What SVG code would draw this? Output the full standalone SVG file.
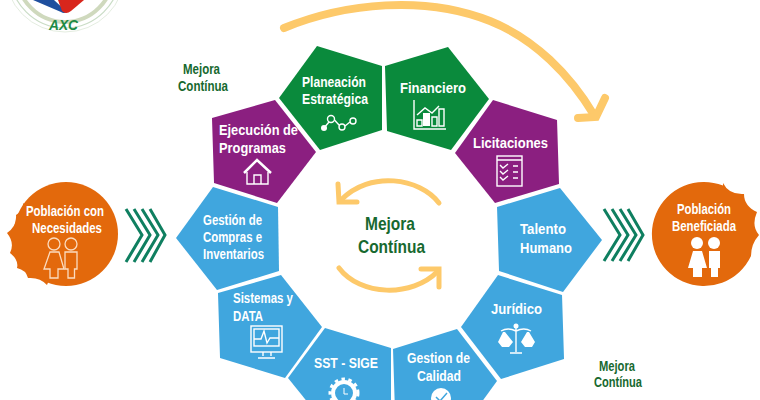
<svg xmlns="http://www.w3.org/2000/svg" width="760" height="400" viewBox="0 0 760 400">
<style>
text{font-family:"Liberation Sans",Arial,sans-serif;font-weight:700}
.w{fill:#fff;font-size:15px}
.g{fill:#17692f;font-size:15px}
.c{fill:#17692f;font-size:19px}
.green{fill:#0a8a3c}.purple{fill:#8b1f80}.blue{fill:#40a6de}.orange{fill:#e3690c}
.ic{fill:none;stroke:#fff;stroke-width:1.4}
.chev{fill:none;stroke:#0f7f60;stroke-width:3}
.arr{fill:none;stroke:#fdc96a;stroke-linecap:round}
</style>
<rect width="760" height="400" fill="#fff"/>
<g id="logo">
<circle cx="65" cy="-28" r="60" fill="none" stroke="#e4ede0" stroke-width="1"/>
<circle cx="65" cy="-27" r="55" fill="none" stroke="#c9dcc5" stroke-width="1.2"/>
<circle cx="65" cy="-26" r="48" fill="none" stroke="#cfd9bd" stroke-width="4"/>
<path d="M33 0 L61 12 Q64 14 67 12 L54 0Z" fill="#1f4f9e"/>
<path d="M58 0 L62 11 Q66 15 71 11 L84 0Z" fill="#d8261c"/>
<text x="49" y="30" font-size="15" fill="#1d8a45" textLength="29" lengthAdjust="spacingAndGlyphs" style="font-family:'Liberation Sans',sans-serif;font-style:italic">AXC</text>
</g>
<g id="connectors">
<path class="arr" stroke-width="8" d="M284 28 C345 3 425 -5 490 21 C535 39 570 75 594 115"/>
<path class="arr" stroke-width="8" d="M578 118 L596 117 L605 98"/>
<path class="arr" stroke-width="5" d="M439 203 C420 178 370 170 341 200"/>
<path class="arr" stroke-width="5" d="M338 184 L339 202 L357 202"/>
<path class="arr" stroke-width="5" d="M339 268 C360 296 412 298 438 271"/>
<path class="arr" stroke-width="5" d="M421 269 L439 269 L439 287"/>
<g class="chev">
<path d="M126 209 L142 235 L126 262M134 209 L150 235 L134 262M142 209 L158 235 L142 262M150 209 L165 235 L150 262"/>
<path d="M604 209 L620 235 L604 261M612 209 L628 235 L612 261M620 209 L636 235 L620 261M628 209 L643 235 L628 261"/>
</g>
</g>
<g id="planeacion">
<polygon class="green" points="317,46 382,66 382,130 320,150 279,98"/>
<text class="w" x="302" y="87" textLength="64" lengthAdjust="spacingAndGlyphs">Planeación</text>
<text class="w" x="302" y="104" textLength="66" lengthAdjust="spacingAndGlyphs">Estratégica</text>
<path class="ic" d="M324 128 L329 122M334.500 120 L339 125M345 126 L350 122"/>
<circle cx="324" cy="128" r="3" fill="#fff"/>
<circle class="ic" cx="331" cy="119" r="3.500"/><circle class="ic" cx="342" cy="127" r="3"/><circle class="ic" cx="353" cy="121" r="3"/>
</g>
<g id="financiero">
<polygon class="green" points="385,66 448,47 489,99 451,150 387,131"/>
<text class="w" x="400" y="93" textLength="66" lengthAdjust="spacingAndGlyphs">Financiero</text>
<path class="ic" d="M414 100 V129 H446M417 115 L425 108 L432 113 L439 106"/>
<path class="ic" d="M417 120h5v6h-5zM432 117h5v9h-5zM439 109h5v17h-5z"/>
<rect x="423" y="113" width="7" height="13" fill="#fff"/>
</g>
<g id="licitaciones">
<polygon class="purple" points="493,100 557,120 559,184 495,203 455,153"/>
<text class="w" x="473" y="148" textLength="75" lengthAdjust="spacingAndGlyphs">Licitaciones</text>
<rect class="ic" x="497" y="156" width="25" height="30"/>
<path class="ic" d="M497 160H522M500 165l3 3 5-4M500 171l3 3 5-4M500 177l3 3 5-4M513 166h5M513 172h5M513 178h5"/>
</g>
<g id="ejecucion">
<polygon class="purple" points="275,100 316,152 277,203 214,183 212,118"/>
<text class="w" x="219" y="135" textLength="79" lengthAdjust="spacingAndGlyphs">Ejecución de</text>
<text class="w" x="219" y="153" textLength="67" lengthAdjust="spacingAndGlyphs">Programas</text>
<path d="M244 173 L257 160 L271 173" fill="none" stroke="#fff" stroke-width="2.500"/>
<path class="ic" d="M247 172 V184 H268 V172M254 184 V175 H261 V184"/>
</g>
<g id="compras">
<polygon class="blue" points="213,187 278,207 279,271 217,290 176,238"/>
<text class="w" x="203" y="225" textLength="59" lengthAdjust="spacingAndGlyphs">Gestión de</text>
<text class="w" x="203" y="242" textLength="59" lengthAdjust="spacingAndGlyphs">Compras e</text>
<text class="w" x="203" y="259" textLength="61" lengthAdjust="spacingAndGlyphs">Inventarios</text>
</g>
<g id="sistemas">
<polygon class="blue" points="218,293 281,275 322,327 285,378 220,358"/>
<text class="w" x="233" y="303" textLength="60" lengthAdjust="spacingAndGlyphs">Sistemas y</text>
<text class="w" x="233" y="321" textLength="30" lengthAdjust="spacingAndGlyphs">DATA</text>
<rect class="ic" x="251" y="326" width="31" height="26"/>
<rect class="ic" x="254" y="329" width="25" height="17"/>
<path class="ic" d="M254 339H261L264 331L267 343L270 338H279M263 352V356M271 352V356M258 358H275"/>
</g>
<g id="sst">
<polygon class="blue" points="288,378 325,328 391,348 391,410 330,430"/>
<text class="w" x="314" y="368" textLength="64" lengthAdjust="spacingAndGlyphs">SST - SIGE</text>
<circle cx="344" cy="393" r="11" fill="none" stroke="#fff" stroke-width="4"/>
<circle cx="344" cy="393" r="14" fill="none" stroke="#fff" stroke-width="3" stroke-dasharray="3.500 3.500"/>
<path d="M344 388V394H348" fill="none" stroke="#fff" stroke-width="1"/>
</g>
<g id="calidad">
<polygon class="blue" points="393,349 457,329 497,381 460,432 395,412"/>
<text class="w" x="407" y="363" textLength="63" lengthAdjust="spacingAndGlyphs">Gestion de</text>
<text class="w" x="417" y="381" textLength="44" lengthAdjust="spacingAndGlyphs">Calidad</text>
<circle cx="441" cy="398" r="10" fill="#fff"/>
<path d="M436 397L440 401L447 393" fill="none" stroke="#40a6de" stroke-width="1.500"/>
</g>
<g id="juridico">
<polygon class="blue" points="461,327 498,275 562,295 564,359 501,379"/>
<text class="w" x="491" y="314" textLength="51" lengthAdjust="spacingAndGlyphs">Jurídico</text>
<circle cx="516" cy="326" r="2.500" fill="#fff"/>
<path class="ic" d="M516 328V352M510 353H522M501 331Q508 327 516 331Q524 327 531 331"/>
<path d="M503 332L498 342L502 347H509L513 342L505 332ZM527 332L521 342L525 347H532L535 342L529 332Z" fill="#fff"/>
</g>
<g id="talento">
<polygon class="blue" points="497,207 560,188 602,240 563,292 499,271"/>
<text class="w" x="520" y="234" textLength="46" lengthAdjust="spacingAndGlyphs">Talento</text>
<text class="w" x="520" y="253" textLength="52" lengthAdjust="spacingAndGlyphs">Humano</text>
</g>
<g id="poblacion-necesidades">
<circle class="orange" cx="66" cy="234" r="52"/>
<path class="orange" d="M47 285 L66 240 L23 203 Q24 210 16 215 Q17 226 7 233 Q15 243 10 253 Q19 260 17 268 Q26 270 28 278 Q40 277 47 285Z"/>
<text class="w" x="26" y="216" textLength="78" lengthAdjust="spacingAndGlyphs">Población con</text>
<text class="w" x="32" y="233" textLength="70" lengthAdjust="spacingAndGlyphs">Necesidades</text>
<g fill="none" stroke="#fbdcc0" stroke-width="1.300">
<circle cx="54" cy="244" r="6"/><circle cx="71" cy="244" r="6"/>
<path d="M50 252H59L64 269H58V278H50V269H44Z"/>
<path d="M65 252H77V269H74.500V278H68V269H65Z"/>
</g>
</g>
<g id="poblacion-beneficiada">
<path class="orange" d="M723 183 Q729 195 744 194 Q744 206 757 212 Q751 226 759 235 Q751 244 751 256 A52 52 0 1 1 723 185.600Z"/>
<text class="w" x="677" y="214" textLength="54" lengthAdjust="spacingAndGlyphs">Población</text>
<text class="w" x="672" y="231" textLength="64" lengthAdjust="spacingAndGlyphs">Beneficiada</text>
<g fill="#fff">
<circle cx="697" cy="243" r="6"/><circle cx="714" cy="243" r="6"/>
<path d="M693 251H702L707 268H702V277H693V268H688Z"/>
<path d="M709 251H720V268H718V277H711V268H709Z"/>
</g>
</g>
<g id="mejora-centro">
<text class="c" x="365" y="230" textLength="50" lengthAdjust="spacingAndGlyphs">Mejora</text>
<text class="c" x="358" y="253" textLength="67" lengthAdjust="spacingAndGlyphs">Contínua</text>
</g>
<g id="mejora-izquierda">
<text class="g" x="183" y="74" textLength="37" lengthAdjust="spacingAndGlyphs">Mejora</text>
<text class="g" x="178" y="91" textLength="50" lengthAdjust="spacingAndGlyphs">Contínua</text>
</g>
<g id="mejora-derecha">
<text class="g" x="599" y="371" textLength="36" lengthAdjust="spacingAndGlyphs">Mejora</text>
<text class="g" x="594" y="387" textLength="48" lengthAdjust="spacingAndGlyphs">Contínua</text>
</g>
</svg>
